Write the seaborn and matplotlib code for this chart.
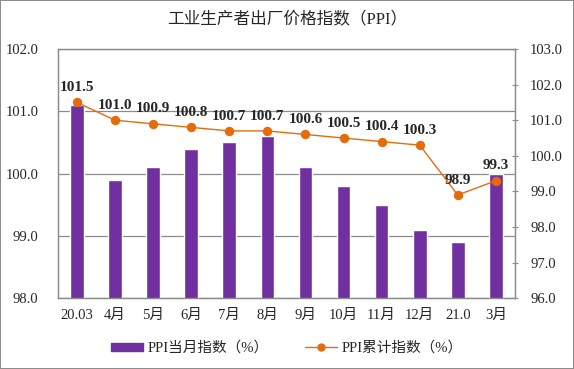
import matplotlib
matplotlib.use("Agg")
import matplotlib.pyplot as plt
import seaborn as sns
from matplotlib.patches import Patch
from matplotlib.lines import Line2D
from matplotlib.ticker import MultipleLocator, FormatStrFormatter

months = ['20.03', '4月', '5月', '6月', '7月', '8月', '9月', '10月', '11月', '12月', '21.0', '3月']
monthly = [101.1, 99.9, 100.1, 100.4, 100.5, 100.6, 100.1, 99.8, 99.5, 99.1, 98.9, 100.0]
cumulative = [101.5, 101.0, 100.9, 100.8, 100.7, 100.7, 100.6, 100.5, 100.4, 100.3, 98.9, 99.3]

sns.set_style("white")
plt.rcParams['font.family'] = ['Liberation Serif', 'Noto Sans CJK SC']

bar_color = '#7030A0'
line_color = '#E46C0A'
grey = '#8c8c8c'

fig = plt.figure(figsize=(5.74, 3.69), dpi=100, edgecolor=grey, linewidth=1.2)
ax = fig.add_axes([0.101, 0.192, 0.796, 0.675])

sns.barplot(x=months, y=monthly, color=bar_color, width=0.36, ax=ax, saturation=1)
ax.set_ylim(98, 102)
ax.yaxis.set_major_locator(MultipleLocator(1))
ax.yaxis.set_major_formatter(FormatStrFormatter('%.1f'))
ax.grid(axis='y', color=grey, linewidth=0.9)
ax.set_axisbelow(True)
ax.set_xlim(-0.5, len(months) - 0.5)
ax.tick_params(axis='y', length=0, labelsize=10.5, pad=14)
ax.tick_params(axis='x', length=0, labelsize=10.5, pad=8)
ax.set_xticks(range(len(months)))
ax.set_xticks([i + 0.5 for i in range(-1, len(months))], minor=True)
ax.tick_params(axis='x', which='minor', length=3, color=grey, direction='out')

ax2 = ax.twinx()
sns.lineplot(x=list(range(len(months))), y=cumulative, color=line_color, marker='o',
             markersize=6, markeredgecolor=line_color, linewidth=1, ax=ax2)
ax2.set_ylim(96, 103)
ax2.yaxis.set_major_locator(MultipleLocator(1))
ax2.yaxis.set_major_formatter(FormatStrFormatter('%.1f'))
ax2.tick_params(axis='y', length=4, direction='inout', color=grey, labelsize=10.5, pad=9)
for i, v in enumerate(cumulative):
    ax2.annotate(f'{v:.1f}', (i, v), xytext=(0, 6), textcoords='offset points',
                 ha='center', va='bottom', fontsize=11, fontweight='bold')

for a in (ax, ax2):
    for s in a.spines.values():
        s.set_color(grey)
        s.set_linewidth(0.9)

fig.text(0.5, 0.945, '工业生产者出厂价格指数（PPI）', ha='center', va='center', fontsize=12)

handles = [Patch(color=bar_color),
           Line2D([0], [0], color=line_color, marker='o', markersize=5, linewidth=1)]
fig.legend(handles, ['PPI当月指数（%）', 'PPI累计指数（%）'], loc='center',
           bbox_to_anchor=(0.5, 0.057), ncol=2, frameon=False, fontsize=10.5,
           handlelength=2.2, handleheight=0.5, handletextpad=0.3, columnspacing=2.5)

fig.savefig('out.png', dpi=100)
